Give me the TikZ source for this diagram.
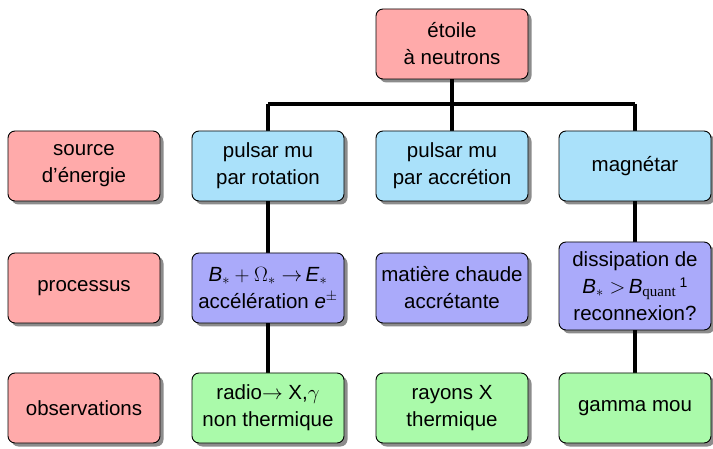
\documentclass[tikz,border=0pt]{standalone}
\usepackage{fontspec}
\setmainfont{Liberation Sans}
\newfontfamily\serifq{Liberation Serif}
\usetikzlibrary{shadows,backgrounds}
\definecolor{cred}{RGB}{255,170,170}
\definecolor{cblue}{RGB}{170,225,250}
\definecolor{cpurple}{RGB}{170,170,250}
\definecolor{cgreen}{RGB}{170,250,170}
\begin{document}
\begin{tikzpicture}[x=1pt,y=-1pt,
  box/.style={draw=black,line width=0.9pt,rounded corners=7pt,minimum width=152pt,minimum height=70pt,
    align=center,inner sep=2pt,font=\fontsize{20.5}{27}\selectfont,
    drop shadow={shadow xshift=3.5pt,shadow yshift=-3.5pt,fill=black,opacity=0.45}},
  redbox/.style={box,fill=cred},
  bluebox/.style={box,fill=cblue},
  purplebox/.style={box,fill=cpurple},
  greenbox/.style={box,fill=cgreen},
  link/.style={line width=3.6pt}]
\useasboundingbox (0,0) rectangle (713,449);
\node[redbox] (top) at (452,44) {étoile\\à neutrons};
\node[redbox] (src) at (84,166) {source\\d’énergie};
\node[redbox] (proc) at (84,288) {processus};
\node[redbox] (obs) at (84,408) {observations};
\node[bluebox] (c1) at (268,166) {pulsar mu\\par rotation};
\node[bluebox] (c2) at (452,166) {pulsar mu\\par accrétion};
\node[bluebox] (c3) at (635,166) {magnétar};
\node[purplebox] (p1) at (268,288) {\textit{B}$_*+\Omega_*\rightarrow$\,\textit{E}$_*$\\accélération \textit{e}$^{\pm}$};
\node[purplebox] (p2) at (452,288) {matière chaude\\accrétante};
\node[purplebox,minimum height=88pt] (p3) at (635,286) {dissipation de\\\textit{B}$_*>$\,\textit{B}$_{\mbox{\fontsize{15}{15}\serifq quant}}$\,\raisebox{0.55ex}{\fontsize{14}{14}\selectfont 1}\\reconnexion?};
\node[greenbox] (o1) at (268,408) {radio$\rightarrow$ X,$\gamma$\\non thermique};
\node[greenbox] (o2) at (452,408) {rayons X\\thermique};
\node[greenbox] (o3) at (635,408) {gamma mou};
\coordinate (bar) at (452,104);
\begin{scope}[on background layer]
\draw[link] (top.south) -- (top.south |- bar);
\draw[link] (c1.north |- bar) -- (c3.north |- bar);
\draw[link] (c1.north |- bar) -- (c1.north);
\draw[link] (c2.north |- bar) -- (c2.north);
\draw[link] (c3.north |- bar) -- (c3.north);
\draw[link] (c1.south) -- (p1.north);
\draw[link] (c3.south) -- (p3.north);
\draw[link] (p1.south) -- (o1.north);
\draw[link] (p3.south) -- (o3.north);
\end{scope}
\end{tikzpicture}
\end{document}
